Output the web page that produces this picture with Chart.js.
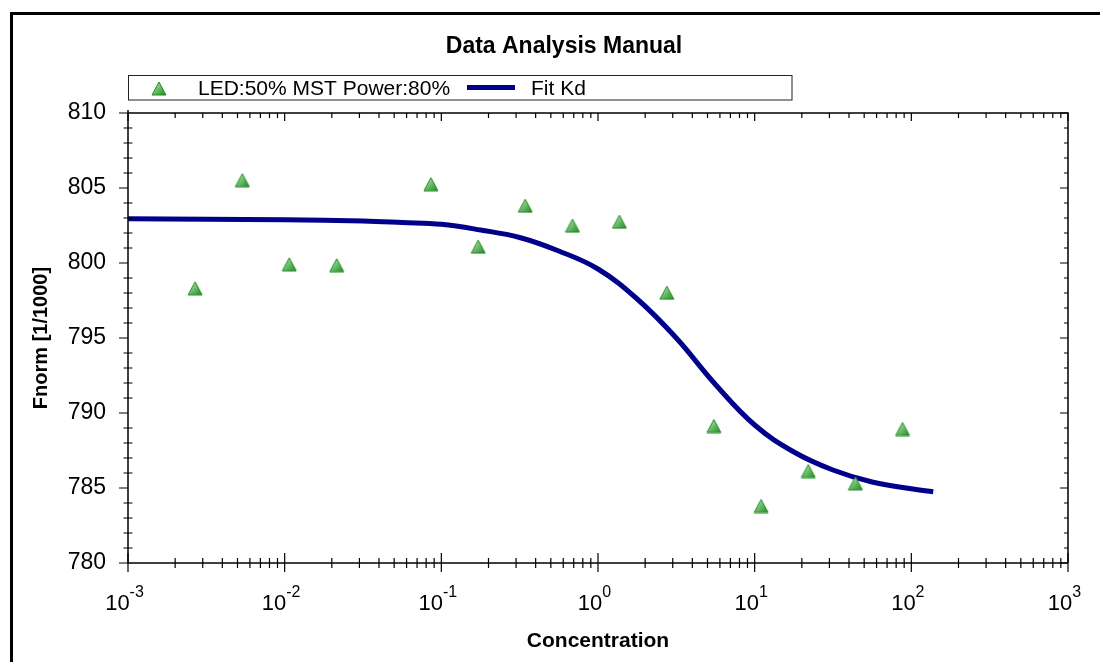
<!DOCTYPE html>
<html>
<head>
<meta charset="utf-8">
<title>Data Analysis Manual</title>
<script src="https://cdn.jsdelivr.net/npm/chart.js@4.4.1/dist/chart.umd.min.js"></script>
<style>
  html, body { margin: 0; padding: 0; background: #fff; }
  canvas { display: block; }
</style>
</head>
<body>
<canvas id="mst" width="1100" height="662"></canvas>
<script>
// ── Data ──────────────────────────────────────────────────────────────────────
const concentration = [0.00268, 0.00537, 0.0107, 0.0215, 0.0858, 0.172, 0.343, 0.687, 1.37, 2.75, 5.49, 10.99, 21.98, 43.95, 87.9];
const fnorm = [798.31, 805.52, 799.91, 799.85, 805.25, 801.09, 803.82, 802.49, 802.75, 798.02, 789.13, 783.8, 786.13, 785.31, 788.93];

const fitConc = [0.001, 0.01, 0.0316, 0.0562, 0.1, 0.178, 0.316, 0.562, 1, 1.78, 3.16, 5.62, 10, 17.8, 31.6, 56.2, 100, 138];
const fitFnorm = [802.95, 802.88, 802.8, 802.7, 802.58, 802.2, 801.7, 800.8, 799.6, 797.6, 795.0, 791.9, 789.2, 787.4, 786.2, 785.4, 784.95, 784.75];

const X_DECADES = [-3, -2, -1, 0, 1, 2, 3];
const Y_TICKS = [780, 785, 790, 795, 800, 805, 810];

const TITLE = 'Data Analysis Manual';
const SERIES_LABEL = 'LED:50% MST Power:80%';
const FIT_LABEL = 'Fit Kd';
const X_TITLE = 'Concentration';
const Y_TITLE = 'Fnorm [1/1000]';

const FONT = '"Liberation Sans", Arial, sans-serif';
const NAVY = '#00008b';

// ── Triangle marker (gradient green) ─────────────────────────────────────────
function makeTriangle() {
  const c = document.createElement('canvas');
  c.width = 16; c.height = 15;
  const g = c.getContext('2d');
  const grad = g.createLinearGradient(2, 2, 14, 14);
  grad.addColorStop(0, '#c6ecc6');
  grad.addColorStop(0.5, '#66bb66');
  grad.addColorStop(1, '#2b8a2b');
  g.beginPath();
  g.moveTo(8, 1);
  g.lineTo(15, 14);
  g.lineTo(1, 14);
  g.closePath();
  g.fillStyle = grad;
  g.fill();
  g.strokeStyle = '#1f8a1f';
  g.lineWidth = 1;
  g.stroke();
  return c;
}
const TRI = makeTriangle();

// ── Frame, title, legend, axes drawn on top ───────────────────────────────────
const decor = {
  id: 'decor',
  afterDraw(chart) {
    const { ctx, chartArea: a, scales } = chart;
    const xs = scales.x, ys = scales.y;
    ctx.save();

    // outer frame (left + top)
    ctx.fillStyle = '#000';
    ctx.fillRect(10, 12, 1090, 3);
    ctx.fillRect(10, 12, 3, 650);

    // title
    ctx.fillStyle = '#000';
    ctx.font = 'bold 23px ' + FONT;
    ctx.textAlign = 'center';
    ctx.textBaseline = 'alphabetic';
    ctx.fillText(TITLE, 564, 53);

    // legend box
    ctx.strokeStyle = '#222';
    ctx.lineWidth = 1;
    ctx.strokeRect(128.5, 75.5, 663.5, 24.5);
    ctx.drawImage(TRI, 151, 81);
    ctx.font = '21px ' + FONT;
    ctx.textAlign = 'left';
    ctx.fillText(SERIES_LABEL, 198, 95);
    ctx.strokeStyle = NAVY;
    ctx.lineWidth = 5;
    ctx.beginPath();
    ctx.moveTo(467, 87.5);
    ctx.lineTo(515, 87.5);
    ctx.stroke();
    ctx.fillStyle = '#000';
    ctx.fillText(FIT_LABEL, 531, 95);

    // axis box
    ctx.strokeStyle = '#000';
    ctx.lineWidth = 1.5;
    ctx.beginPath();
    ctx.moveTo(a.left, a.top - 3);
    ctx.lineTo(a.left, a.bottom);
    ctx.lineTo(a.right, a.bottom);
    ctx.moveTo(a.left, a.top);
    ctx.lineTo(a.right, a.top);
    ctx.lineTo(a.right, a.bottom);
    ctx.stroke();

    // x ticks (log)
    ctx.lineWidth = 1.2;
    ctx.beginPath();
    X_DECADES.forEach(e => {
      const px = xs.getPixelForValue(Math.pow(10, e));
      ctx.moveTo(px, a.bottom - 10); ctx.lineTo(px, a.bottom + 9);
      ctx.moveTo(px, a.top); ctx.lineTo(px, a.top + 8);
      if (e < 3) {
        for (let m = 2; m <= 9; m++) {
          const pm = xs.getPixelForValue(m * Math.pow(10, e));
          ctx.moveTo(pm, a.bottom - 5); ctx.lineTo(pm, a.bottom + 5);
          ctx.moveTo(pm, a.top); ctx.lineTo(pm, a.top + 5);
        }
      }
    });
    // y ticks
    for (let v = ys.min; v <= ys.max; v++) {
      const py = ys.getPixelForValue(v);
      if (v % 5 === 0) {
        ctx.moveTo(a.left - 9, py); ctx.lineTo(a.left, py);
        ctx.moveTo(a.right - 8, py); ctx.lineTo(a.right, py);
      } else {
        ctx.moveTo(a.left - 4.5, py); ctx.lineTo(a.left + 4.5, py);
        ctx.moveTo(a.right - 4, py); ctx.lineTo(a.right, py);
      }
    }
    ctx.stroke();

    // y tick labels
    ctx.fillStyle = '#000';
    ctx.font = '23px ' + FONT;
    ctx.textAlign = 'right';
    Y_TICKS.forEach(v => {
      ctx.fillText(String(v), 106, ys.getPixelForValue(v) + 6);
    });

    // x tick labels 10^e
    const base = '22px ' + FONT, sup = '16px ' + FONT;
    ctx.textAlign = 'left';
    X_DECADES.forEach(e => {
      const px = xs.getPixelForValue(Math.pow(10, e));
      ctx.font = base;
      const w1 = ctx.measureText('10').width;
      ctx.font = sup;
      const w2 = ctx.measureText(String(e)).width;
      const left = px - 3.5 - (w1 + w2) / 2;
      ctx.font = base;
      ctx.fillText('10', left, 610);
      ctx.font = sup;
      ctx.fillText(String(e), left + w1, 597);
    });

    // axis titles
    ctx.font = 'bold 21px ' + FONT;
    ctx.textAlign = 'center';
    ctx.fillText(X_TITLE, (a.left + a.right) / 2, 647);
    ctx.save();
    ctx.translate(47, (a.top + a.bottom) / 2);
    ctx.rotate(-Math.PI / 2);
    ctx.font = 'bold 20px ' + FONT;
    ctx.fillText(Y_TITLE, 0, 0);
    ctx.restore();

    ctx.restore();
  }
};

// ── Chart ─────────────────────────────────────────────────────────────────────
new Chart(document.getElementById('mst'), {
  type: 'scatter',
  data: {
    datasets: [
      {
        label: SERIES_LABEL,
        data: concentration.map((c, i) => ({ x: c, y: fnorm[i] })),
        pointStyle: TRI,
        order: 0
      },
      {
        type: 'line',
        label: FIT_LABEL,
        data: fitConc.map((c, i) => ({ x: c, y: fitFnorm[i] })),
        borderColor: NAVY,
        borderWidth: 5,
        pointRadius: 0,
        fill: false,
        tension: 0.4,
        order: 1
      }
    ]
  },
  options: {
    responsive: false,
    animation: false,
    layout: { padding: { left: 128, right: 32, top: 113, bottom: 99 } },
    plugins: {
      legend: { display: false },
      title: { display: false },
      tooltip: { enabled: false }
    },
    scales: {
      x: { type: 'logarithmic', min: 0.001, max: 1000, display: false },
      y: { type: 'linear', min: 780, max: 810, display: false }
    }
  },
  plugins: [decor]
});
</script>
</body>
</html>
